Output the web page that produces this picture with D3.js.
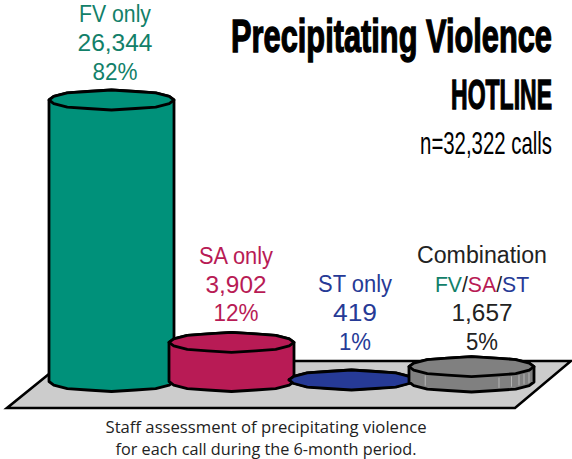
<!DOCTYPE html>
<html><head><meta charset="utf-8">
<style>html,body{margin:0;padding:0;background:#fff}svg{display:block}</style>
<script src="https://cdn.jsdelivr.net/npm/d3@7"></script></head>
<body><svg id="c" width="572" height="459"></svg>
<script>
const categories = ["FV only","SA only","ST only","Combination"];
const values = [26344,3902,419,1657];
const percents = ["82%","12%","1%","5%"];
const countLabels = ["26,344","3,902","419","1,657"];
const colors = ["#00917a","#b81b55","#263a96","#808080"];
const labelColors = ["#128069","#b81b55","#263a96","#222222"];

const svg = d3.select("#c");
const x = d3.scaleBand().domain(categories).range([49,534]).paddingInner(-0.0417).paddingOuter(0);
const y = d3.scaleLinear().domain([280,26344]).range([381.5,100]);
const RY = 10;

svg.append("path").attr("d","M7,408 L515,408 L571,361 L65,361 Z")
  .attr("fill","#cccccc").attr("stroke","#000").attr("stroke-width",2.6).attr("stroke-linejoin","miter");

const line = d3.line().curve(d3.curveLinear);
function arcPts(cx,cy,rx,ry,a0,a1,n){
  return d3.range(n+1).map(i=>{
    const a=a0+(a1-a0)*i/n;
    const k=(i%2===0)?1:0.92;
    return [cx+rx*Math.cos(a),cy+ry*k*Math.sin(a)];
  });
}
const SEG = 8;
categories.forEach((c,i)=>{
  const l = x(c), w = x.bandwidth(), cx = l+w/2, rx = w/2;
  const top = y(values[i]), base = i===2 ? 379.5 : (i===3?382:381.5);
  const g = svg.append("g");
  const front = arcPts(cx,base,rx,RY,0,Math.PI,SEG);
  const back  = arcPts(cx,top,rx,RY,Math.PI,2*Math.PI,SEG);
  g.append("path").attr("d",line(front.concat(back))+"Z")
    .attr("fill",colors[i]).attr("stroke","#000").attr("stroke-width",2.8).attr("stroke-linejoin","round");
  g.append("path").attr("d",line(arcPts(cx,top,rx,RY,0,2*Math.PI,SEG*2))+"Z")
    .attr("fill",colors[i]).attr("stroke","#000").attr("stroke-width",2.8).attr("stroke-linejoin","round");
  if(i===3){
    [0.13,0.72,0.82,0.88,0.92,0.96].forEach(f=>{
      const px=l+w*f;
      const dy=RY*Math.sqrt(Math.max(0,1-Math.pow((px-cx)/rx,2)));
      g.append("line").attr("x1",px).attr("x2",px).attr("y1",top+dy+2).attr("y2",base+dy-3)
        .attr("stroke","#b5b5b5").attr("stroke-width",1);
    });
  }
});

function txt(t,cx,by,size,col,len,fam){
  const e=svg.append("text").attr("x",cx).attr("y",by).attr("text-anchor","middle")
    .attr("font-family",fam||"Liberation Sans").attr("font-size",size).attr("fill",col).text(t);
  if(len)e.attr("textLength",len).attr("lengthAdjust","spacingAndGlyphs");
  return e;
}
const S=23;
txt(categories[0],115,22,S,labelColors[0],72);
txt(countLabels[0],115,51,S,labelColors[0],75);
txt(percents[0],115,80,S,labelColors[0],45);
txt(categories[1],236,264,S,labelColors[1],74);
txt(countLabels[1],236,293,S,labelColors[1],61);
txt(percents[1],236,321,S,labelColors[1],45);
txt(categories[2],355,292,S,labelColors[2],74);
txt(countLabels[2],355,321,S,labelColors[2],44);
txt(percents[2],355,350,S,labelColors[2],32);
txt(categories[3],482,263,S,"#222222",130);
const f=svg.append("text").attr("x",482).attr("y",292).attr("text-anchor","middle")
  .attr("font-family","Liberation Sans").attr("font-size",21.2);
[["FV",labelColors[0]],["/","#222"],["SA",labelColors[1]],["/","#222"],["ST",labelColors[2]]]
  .forEach(d=>f.append("tspan").attr("fill",d[1]).text(d[0]));
txt(countLabels[3],482,321,S,labelColors[3],61);
txt(percents[3],482,350,S,labelColors[3],32);

// titles: condensed heavy look, squeezed to the measured width
function rt(t,by,size,len,w,sw){
  const e=svg.append("text").attr("text-anchor","end")
   .attr("font-family","Liberation Sans").attr("font-size",size).attr("font-weight",w).attr("fill","#000")
   .attr("stroke","#000").attr("stroke-width",sw).text(t);
  const k=len/e.node().getComputedTextLength();
  e.attr("transform",`translate(552,${by}) scale(${k},1)`);
}
rt("Precipitating Violence",52,47,321,"bold",1.4);
rt("HOTLINE",109,43,101,"bold",1.4);
rt("n=32,322 calls",154,32,132,"normal",0);

txt("Staff assessment of precipitating violence",266,433,17,"#222",321,"Open Sans");
txt("for each call during the 6-month period.",266,455,17,"#222",301,"Open Sans");
</script></body></html>
